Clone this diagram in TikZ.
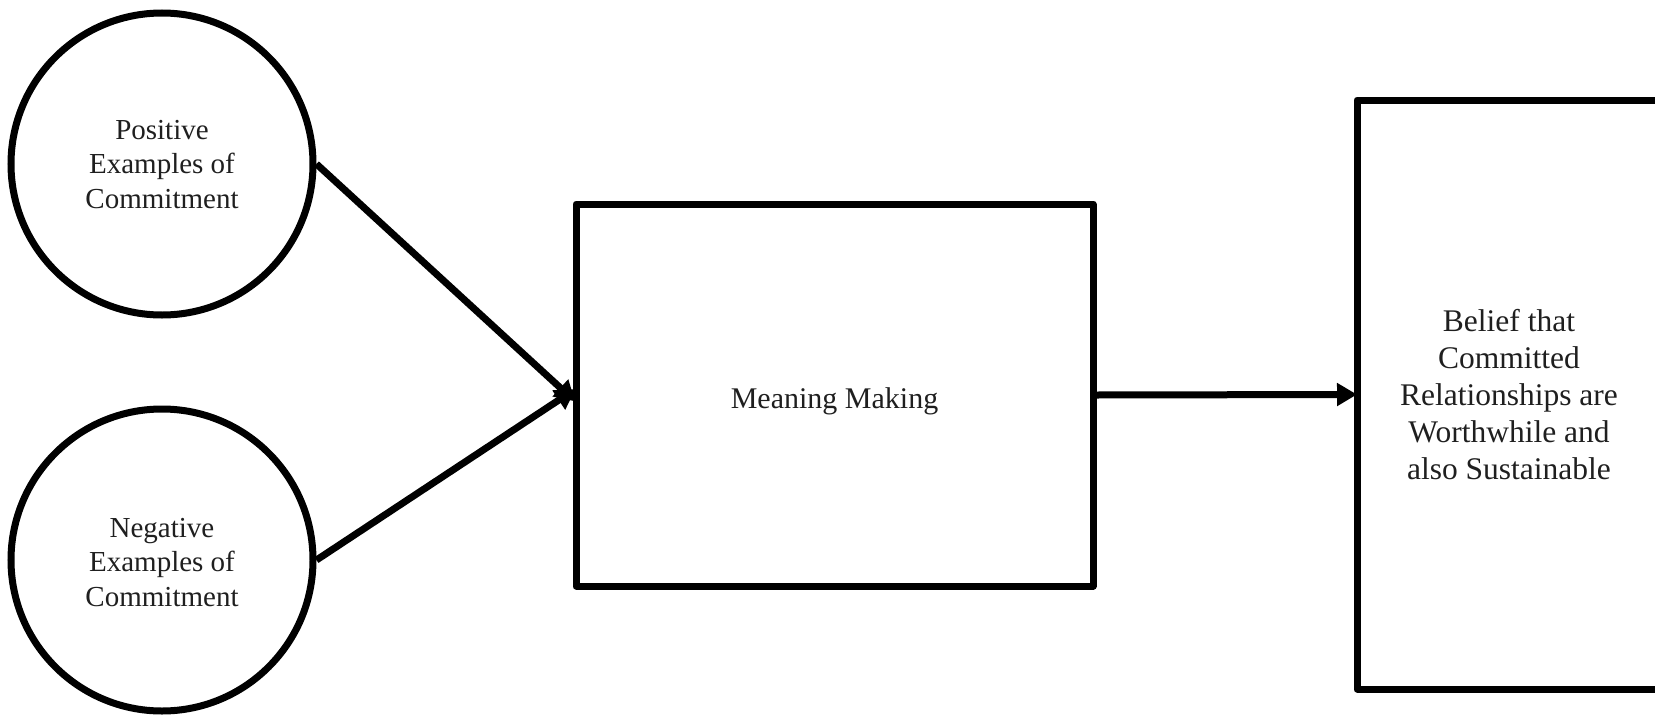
\documentclass[tikz,border=0pt]{standalone}
\usepackage{fontspec}
\setmainfont{Liberation Serif}
\usetikzlibrary{arrows.meta}
\newcommand{\lowerby}[2]{\raisebox{-#1}[\height][\depth]{#2}}
\begin{document}
\begin{tikzpicture}[x=1pt,y=-1pt,
  thick line/.style={line width=7pt},
  circ/.style={thick line, draw=black, circle, minimum size=302pt, inner sep=0pt, align=center, text=black!88,
    font=\fontsize{29pt}{34.5pt}\selectfont},
  boxnode/.style={thick line, draw=black, rectangle, inner sep=0pt, align=center, text=black!88, line join=round},
  conn/.style={thick line, -{Triangle[length=20pt,width=22pt]}, shorten >=-3.5pt}
]
\useasboundingbox (0,0) rectangle (1655,720);
\clip (0,0) rectangle (1655,720);
\node[circ] (pos) at (162,164) {\lowerby{3pt}{\begin{tabular}{@{}c@{}}Positive\\Examples of\\Commitment\end{tabular}}};
\node[circ] (neg) at (162,560) {\lowerby{5pt}{\begin{tabular}{@{}c@{}}Negative\\Examples of\\Commitment\end{tabular}}};
\node[boxnode, minimum width=517pt, minimum height=382pt, font=\fontsize{30pt}{34pt}\selectfont] (mm) at (834.5,395) {\lowerby{6pt}{Meaning Making}};
\node[boxnode, minimum width=304pt, minimum height=589pt, font=\fontsize{31.5pt}{37pt}\selectfont] (belief) at (1509,394.5) {Belief that\\Committed\\Relationships are\\Worthwhile and\\also Sustainable};
\draw[conn] (pos.east) -- ([yshift=-4pt]mm.west);
\draw[conn] (neg.east) -- ([yshift=4pt]mm.west);
\draw[conn] (mm.east) -- (belief.west);
\end{tikzpicture}
\end{document}
